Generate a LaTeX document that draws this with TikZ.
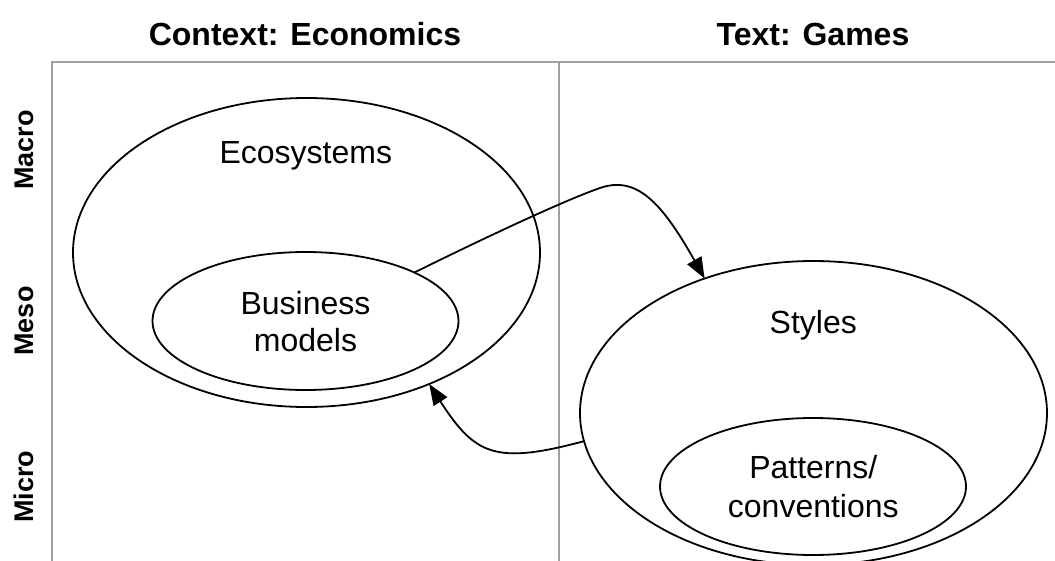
\documentclass[tikz,border=0pt]{standalone}
\usepackage{fontspec}
\setmainfont{Liberation Sans}
\usetikzlibrary{arrows.meta,shapes.geometric}
\definecolor{framegray}{RGB}{160,160,160}
\begin{document}
\begin{tikzpicture}[x=1pt,y=-1pt,
  ell/.style={draw=black, line width=1.8pt, ellipse, inner sep=0pt, outer sep=0pt},
  hdr/.style={font=\fontsize{32}{38}\selectfont\bfseries, anchor=base},
  rowlab/.style={font=\fontsize{27}{32}\selectfont\bfseries, anchor=base, rotate=90},
  txt/.style={font=\fontsize{32}{38}\selectfont, anchor=base},
  conn/.style={line width=1.8pt, -{Triangle[length=21pt,width=16pt]}},
  framel/.style={draw=framegray, line width=2pt}]
\useasboundingbox (0,0) rectangle (1055,560);
\clip (0,0) rectangle (1055,560);

% frame
\draw[framel] (51.7,620) -- (51.7,62.3) -- (1120,62.3);
\draw[framel] (559.3,62.3) -- (559.3,620);

% headers
\node[hdr] (h1) at (305,45.5) {Context: Economics};
\node[hdr] (h2) at (813,45.5) {Text: Games};

% row labels
\node[rowlab] (r1) at (33.3,150) {Macro};
\node[rowlab] (r2) at (33.3,321) {Meso};
\node[rowlab] (r3) at (33.3,486.7) {Micro};

% ellipses
\node[ell, minimum width=467pt, minimum height=309pt] (eco) at (306.5,252.5) {};
\node[ell, minimum width=306pt, minimum height=138pt] (bm) at (305.5,321) {};
\node[ell, minimum width=467pt, minimum height=304pt] (sty) at (813.5,413) {};
\node[ell, minimum width=306pt, minimum height=137pt] (pat) at (813,486.5) {};

% texts
\node[txt] (t1) at (305.8,163.3) {Ecosystems};
\node[txt] (t2) at (305.5,314) {Business};
\node[txt] (t3) at (305.5,351.7) {models};
\node[txt] (t4) at (813.3,333.3) {Styles};
\node[txt] (t5) at (813.3,478.3) {Patterns/};
\node[txt] (t6) at (813.3,517.3) {conventions};

% connectors
\coordinate (bend) at (600,188);
\draw[conn] (bm.24) .. controls (480,240) and (565,200) .. (bend)
  .. controls (635,176) and (660,199) .. (sty.129);
\draw[conn] (sty.187) .. controls (495,465) and (475,455) .. (eco.-47);
\end{tikzpicture}
\end{document}
